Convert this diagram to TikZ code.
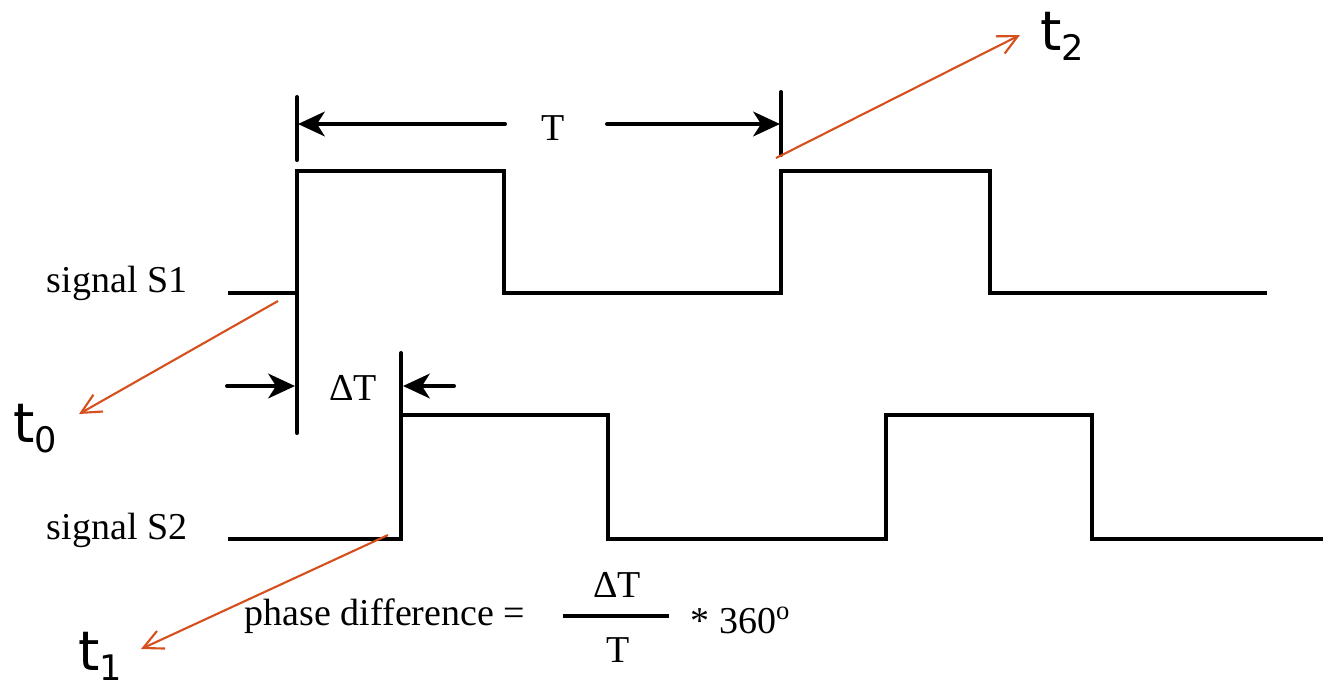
\documentclass[tikz,border=0pt]{standalone}
\usepackage{fontspec}
\setmainfont{Liberation Serif}
\newfontfamily\tfont{DejaVu Sans}
\usetikzlibrary{arrows.meta}
\definecolor{ptr}{RGB}{214,80,30}
\tikzset{
  wave/.style={line width=1.15pt},
  markline/.style={line width=1.15pt, line cap=round},
  dim/.style={line width=1.15pt, line cap=round, -{Stealth[length=7.6pt,width=7pt,inset=2.2pt]}},
  pointer/.style={ptr, line width=0.6pt, -{Straight Barb[length=5.6pt,width=5.5pt]}},
  lbl/.style={inner sep=0pt, anchor=base, font=\fontsize{10.8}{13}\selectfont},
  tlbl/.style={inner sep=0pt, anchor=base west, font=\tfont\fontsize{15.5}{18}\selectfont}
}
\newcommand{\tsub}[1]{\kern-0.3pt\raisebox{-3pt}{\fontsize{10}{12}\selectfont #1}}

\begin{document}
\begin{tikzpicture}[x=0.01cm,y=-0.01cm]
\useasboundingbox (0,0) rectangle (1323,687);

% signal S1 and S2
\draw[wave] (228,293) -- (297,293) -- (297,171) -- (504,171) -- (504,293) -- (781,293)
  -- (781,171) -- (990,171) -- (990,293) -- (1267,293);
\draw[wave] (228,539) -- (401,539) -- (401,415) -- (608,415) -- (608,539) -- (886,539)
  -- (886,415) -- (1092,415) -- (1092,539) -- (1323,539);

% marker lines
\draw[markline] (297,97) -- (297,160);
\draw[markline] (297,293) -- (297,433);
\draw[markline] (781,92) -- (781,155);
\draw[markline] (401,353) -- (401,415);

% labels
\node[lbl] (s1) at (117,292) {signal S1};
\node[lbl] (s2) at (117,539) {signal S2};
\node[lbl] (T) at (553,140) {T};
\node[lbl] (dT) at (353,400) {ΔT};

% period T
\coordinate (tl) at (505,124);
\coordinate (tr) at (607,124);
\coordinate (m0) at (298,124);
\coordinate (m2) at (780,124);
\draw[dim] (tl) -- (m0);
\draw[dim] (tr) -- (m2);

% delta T
\coordinate (dl) at (227,386);
\coordinate (dr) at (454,386);
\coordinate (e0) at (295,386);
\coordinate (e1) at (403,386);
\draw[dim] (dl) -- (e0);
\draw[dim] (dr) -- (e1);

% formula
\node[lbl] (phase) at (385,625) {phase difference =};
\node[lbl] (num) at (617,597) {ΔT};
\node[lbl] (den) at (618,662) {T};
\node[lbl] (deg) at (741,633) {* 360\textsuperscript{o}};
\draw[line width=1.2pt] (563,616) -- (669,616);

% time points
\node[tlbl] (t0) at (13,442) {t\tsub{0}};
\node[tlbl] (t1) at (78,670) {t\tsub{1}};
\node[tlbl] (t2) at (1040,50) {t\tsub{2}};

\coordinate (p0) at (278,301);
\coordinate (q0) at (79,414);
\coordinate (p1) at (388,535);
\coordinate (q1) at (141,649);
\coordinate (p2) at (776,158);
\coordinate (q2) at (1020,35);
\draw[pointer] (p0) -- (q0);
\draw[pointer] (p1) -- (q1);
\draw[pointer] (p2) -- (q2);
\end{tikzpicture}
\end{document}
